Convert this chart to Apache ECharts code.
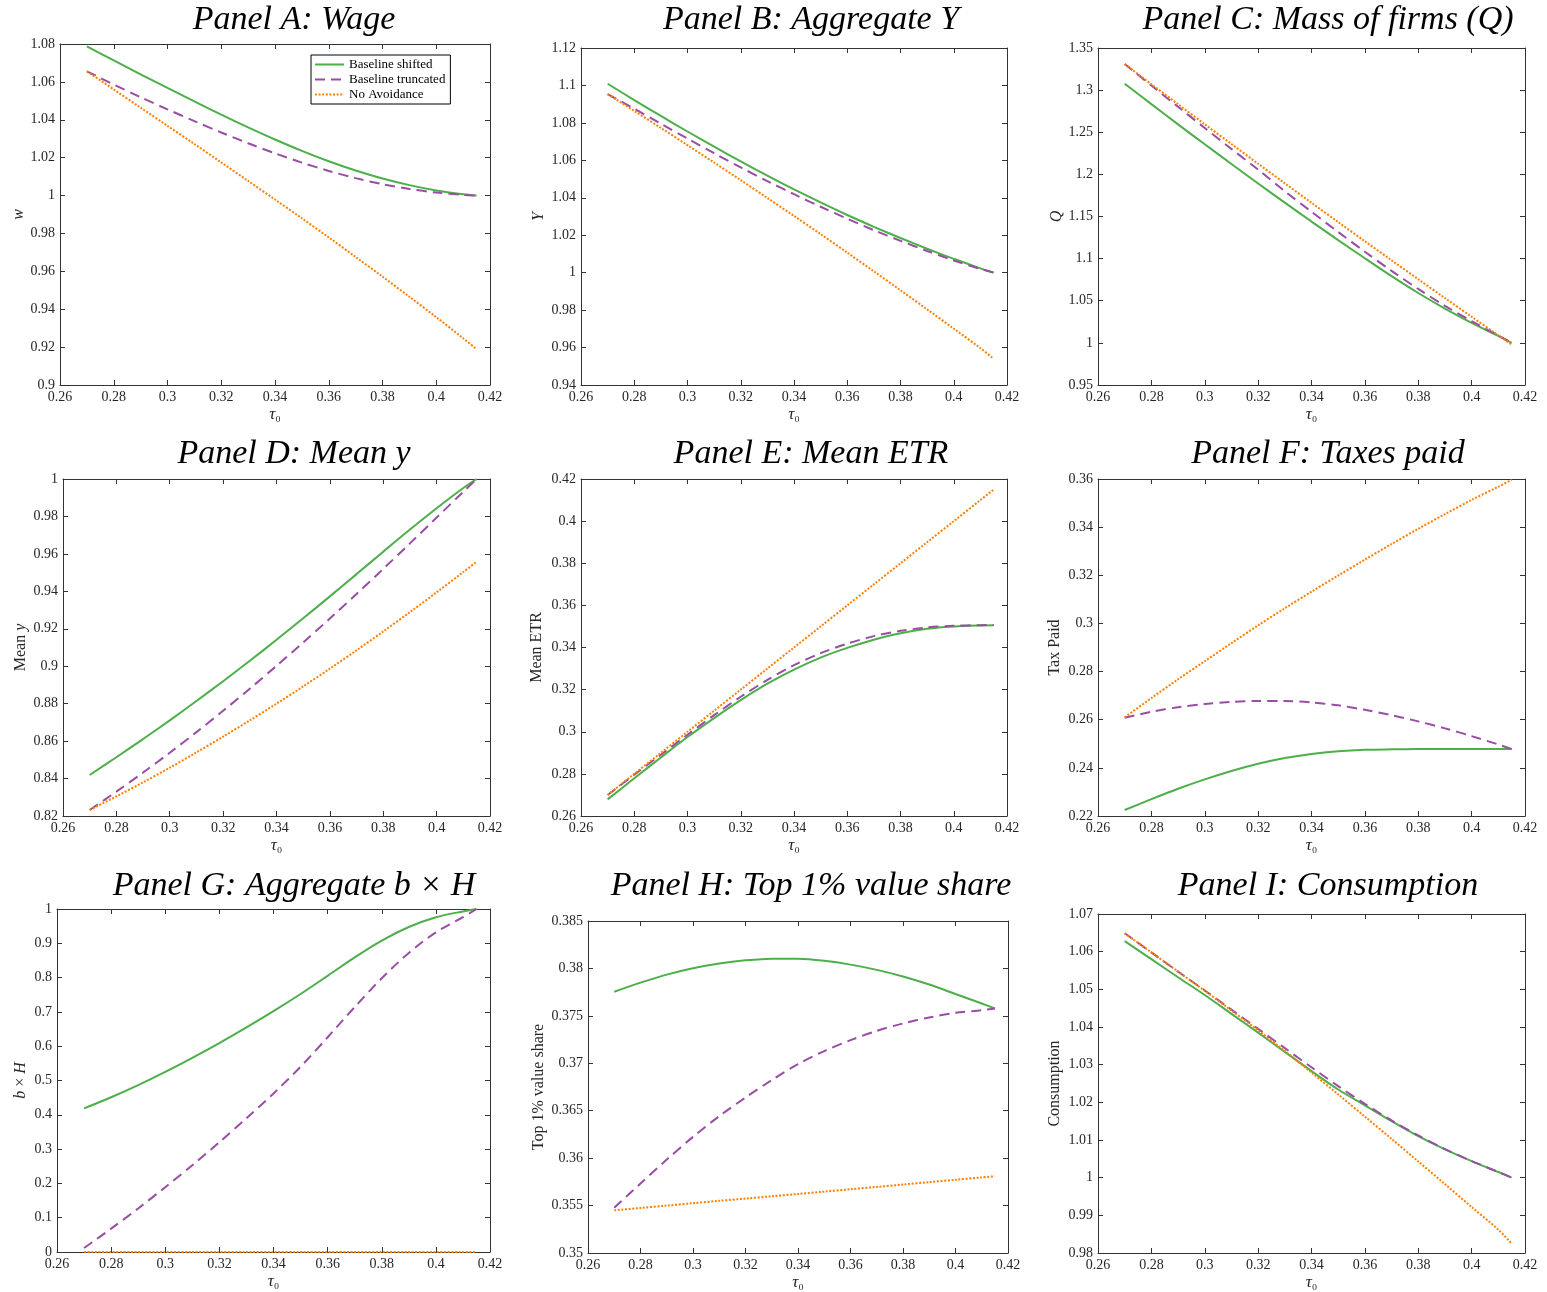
<!DOCTYPE html>
<html><head><meta charset="utf-8">
<script src="https://cdn.jsdelivr.net/npm/echarts@6/dist/echarts.min.js"></script>
<style>html,body{margin:0;padding:0;background:#fff}#chart{width:1547px;height:1292px}</style>
</head><body><div id="chart"></div>
<script>
// ---------------- DATA ----------------
const tau = [0.27,0.28,0.29,0.30,0.31,0.32,0.33,0.34,0.35,0.36,0.37,0.38,0.39,0.40,0.41,0.415];
const seriesNames = ['Baseline shifted','Baseline truncated','No Avoidance'];

// Panel A: Wage
const wShifted   = [1.0788,1.0713,1.0640,1.0568,1.0497,1.0427,1.0360,1.0296,1.0236,1.0181,1.0132,1.0090,1.0055,1.0027,1.0007,1.0000];
const wTruncated = [1.0656,1.0586,1.0519,1.0455,1.0393,1.0333,1.0276,1.0223,1.0174,1.0130,1.0092,1.0060,1.0035,1.0016,1.0004,1.0000];
const wNoAvoid   = [1.0656,1.0560,1.0464,1.0368,1.0272,1.0175,1.0077,0.9979,0.9880,0.9779,0.9676,0.9572,0.9466,0.9358,0.9247,0.9189];
// Panel B: Aggregate Y
const yShifted   = [1.1009,1.0922,1.0837,1.0754,1.0673,1.0594,1.0518,1.0445,1.0375,1.0308,1.0245,1.0185,1.0128,1.0074,1.0023,1.0000];
const yTruncated = [1.0954,1.0876,1.0796,1.0716,1.0638,1.0562,1.0489,1.0419,1.0352,1.0288,1.0227,1.0170,1.0116,1.0065,1.0020,1.0000];
const yNoAvoid   = [1.0954,1.0864,1.0773,1.0681,1.0588,1.0494,1.0399,1.0303,1.0206,1.0107,1.0007,0.9906,0.9804,0.9701,0.9597,0.9540];
// Panel C: Mass of firms Q
const qShifted   = [1.3076,1.2834,1.2594,1.2357,1.2123,1.1892,1.1664,1.1440,1.1220,1.1004,1.0792,1.0592,1.0407,1.0237,1.0082,1.0000];
const qTruncated = [1.3310,1.3055,1.2802,1.2551,1.2302,1.2056,1.1800,1.1556,1.1316,1.1082,1.0855,1.0640,1.0440,1.0258,1.0088,1.0000];
const qNoAvoid   = [1.3310,1.3070,1.2832,1.2595,1.2360,1.2126,1.1894,1.1663,1.1434,1.1206,1.0980,1.0755,1.0532,1.0310,1.0090,0.9980];
// Panel D: Mean y
const myShifted   = [0.8419,0.8514,0.8611,0.8711,0.8814,0.8920,0.9029,0.9141,0.9256,0.9373,0.9492,0.9612,0.9730,0.9844,0.9952,1.0000];
const myTruncated = [0.8232,0.8330,0.8432,0.8538,0.8648,0.8762,0.8880,0.9002,0.9127,0.9255,0.9386,0.9520,0.9656,0.9794,0.9932,1.0000];
const myNoAvoid   = [0.8232,0.8305,0.8380,0.8458,0.8540,0.8624,0.8711,0.8800,0.8892,0.8987,0.9085,0.9186,0.9289,0.9395,0.9503,0.9558];
// Panel E: Mean ETR
const etrShifted   = [0.2679,0.2779,0.2878,0.2975,0.3065,0.3150,0.3228,0.3295,0.3352,0.3398,0.3437,0.3468,0.3489,0.3500,0.3505,0.3506];
const etrTruncated = [0.2700,0.2796,0.2891,0.2986,0.3079,0.3166,0.3246,0.3316,0.3373,0.3418,0.3454,0.3479,0.3495,0.3503,0.3506,0.3507];
const etrNoAvoid   = [0.2700,0.2800,0.2900,0.3000,0.3100,0.3200,0.3300,0.3400,0.3500,0.3600,0.3700,0.3800,0.3900,0.4000,0.4100,0.4150];
// Panel F: Taxes paid
const taxShifted   = [0.2225,0.2270,0.2313,0.2352,0.2387,0.2417,0.2441,0.2458,0.2469,0.2475,0.2477,0.2478,0.2478,0.2478,0.2478,0.2478];
const taxTruncated = [0.2608,0.2633,0.2652,0.2665,0.2674,0.2678,0.2678,0.2672,0.2660,0.2641,0.2619,0.2593,0.2564,0.2532,0.2497,0.2478];
const taxNoAvoid   = [0.2610,0.2690,0.2768,0.2843,0.2918,0.2992,0.3063,0.3132,0.3199,0.3265,0.3330,0.3393,0.3454,0.3513,0.3568,0.3597];
// Panel G: Aggregate b x H
const bhShifted   = [0.4187,0.4512,0.4867,0.5252,0.5662,0.6092,0.6547,0.7022,0.7522,0.8052,0.8590,0.9080,0.9475,0.9760,0.9930,1.0000];
const bhTruncated = [0.0117,0.0680,0.1270,0.1890,0.2530,0.3200,0.3900,0.4620,0.5400,0.6260,0.7140,0.7980,0.8720,0.9320,0.9760,1.0000];
const bhNoAvoid   = [0,0,0,0,0,0,0,0,0,0,0,0,0,0,0,0];
// Panel H: Top 1% value share
const top1Shifted   = [0.37754,0.37850,0.37935,0.38002,0.38052,0.38085,0.38103,0.38102,0.38080,0.38040,0.37985,0.37915,0.37830,0.37730,0.37630,0.37578];
const top1Truncated = [0.35478,0.35732,0.35985,0.36224,0.36443,0.36639,0.36823,0.36991,0.37129,0.37244,0.37342,0.37420,0.37483,0.37532,0.37560,0.37578];
const top1NoAvoid   = [0.35450,0.35475,0.35500,0.35525,0.35550,0.35574,0.35598,0.35622,0.35647,0.35672,0.35697,0.35722,0.35747,0.35772,0.35797,0.35809];
// Panel I: Consumption
const consShifted   = [1.0628,1.0580,1.0532,1.0485,1.0435,1.0385,1.0334,1.0283,1.0234,1.0192,1.0150,1.0110,1.0075,1.0044,1.0015,1.0000];
const consTruncated = [1.0649,1.0598,1.0547,1.0497,1.0446,1.0395,1.0344,1.0293,1.0243,1.0196,1.0152,1.0112,1.0076,1.0044,1.0015,1.0000];
const consNoAvoid   = [1.0649,1.0598,1.0547,1.0496,1.0444,1.0391,1.0336,1.0279,1.0221,1.0162,1.0103,1.0043,0.9983,0.9922,0.9862,0.9825];

const panelTitles = ['Panel A: Wage','Panel B: Aggregate Y','Panel C: Mass of firms (Q)',
  'Panel D: Mean y','Panel E: Mean ETR','Panel F: Taxes paid',
  'Panel G: Aggregate b \u00d7 H','Panel H: Top 1% value share','Panel I: Consumption'];
const yAxisNames = ['{i|w}','{i|Y}','{i|Q}','{n|Mean }{i|y}','{n|Mean ETR}','{n|Tax Paid}','{i|b}{n| \u00d7 }{i|H}','{n|Top 1% value share}','{n|Consumption}'];
const yMins = [0.9, 0.94, 0.95, 0.82, 0.26, 0.22, 0, 0.35, 0.98];
const yMaxs = [1.08, 1.12, 1.35, 1.0, 0.42, 0.36, 1.0, 0.385, 1.07];
const yIntervals = [0.02, 0.02, 0.05, 0.02, 0.02, 0.02, 0.1, 0.005, 0.01];
const xMin = 0.26, xMax = 0.42, xInterval = 0.02;
const panelData = [
  [wShifted, wTruncated, wNoAvoid],
  [yShifted, yTruncated, yNoAvoid],
  [qShifted, qTruncated, qNoAvoid],
  [myShifted, myTruncated, myNoAvoid],
  [etrShifted, etrTruncated, etrNoAvoid],
  [taxShifted, taxTruncated, taxNoAvoid],
  [bhShifted, bhTruncated, bhNoAvoid],
  [top1Shifted, top1Truncated, top1NoAvoid],
  [consShifted, consTruncated, consNoAvoid]
];

// ---------------- LAYOUT / STYLE ----------------
const SERIF = '"Liberation Serif", "Times New Roman", serif';
const AX = '#333333';
const COLORS = ['#4daf4a', '#984ea3', '#ff7f00'];
const LTYPES = ['solid', [10, 6], [2, 1.6]];
const grids = [
  [60, 44, 430, 341], [581, 48, 426, 337], [1098, 48, 427, 337],
  [63, 479, 427, 337], [581, 479, 426, 337], [1098, 479, 427, 337],
  [57, 909, 433, 343], [588, 921, 420, 332], [1098, 914, 427, 339]
];
const yGaps = [33, 34, 32, 34, 36, 35, 28, 41, 35];
const titlePos = [[294,20],[811,20],[1328,20],[294,454],[811,454],[1328,454],[294,886],[811,886],[1328,886]];

const fmt = v => String(+(+v).toFixed(5));
const richY = {
  n: {fontFamily: SERIF, fontSize: 16, color: '#262626'},
  i: {fontFamily: SERIF, fontSize: 16, fontStyle: 'italic', color: '#262626'}
};
const richX = {
  t: {fontFamily: SERIF, fontSize: 17, fontStyle: 'italic', color: '#262626'},
  s: {fontFamily: SERIF, fontSize: 16, color: '#262626'}
};

const option = {
  animation: false,
  backgroundColor: '#fff',
  textStyle: {fontFamily: SERIF},
  grid: [], xAxis: [], yAxis: [], series: [],
  graphic: [],
  legend: {
    data: seriesNames, left: 311, top: 55, orient: 'vertical',
    itemWidth: 29, itemHeight: 10, itemGap: 2,
    padding: [3, 5, 3, 3], borderColor: '#000', borderWidth: 1, borderRadius: 0,
    backgroundColor: '#fff',
    itemStyle: {opacity: 0},
    textStyle: {fontFamily: SERIF, fontSize: 13, color: '#000'}
  }
};

for (let p = 0; p < 9; p++) {
  const g = grids[p];
  option.grid.push({left: g[0], top: g[1], width: g[2], height: g[3], containLabel: false});
  const axLine = {show: true, onZero: false, lineStyle: {color: AX, width: 1}};
  const tick = {show: true, inside: true, length: 5, lineStyle: {color: AX}};
  option.xAxis.push({
    type: 'value', gridIndex: p, position: 'bottom', min: xMin, max: xMax, interval: xInterval,
    axisLine: axLine, axisTick: tick, splitLine: {show: false},
    axisLabel: {formatter: fmt, fontFamily: SERIF, fontSize: 14, color: '#262626', margin: 5, showMinLabel: true, showMaxLabel: true},
    name: '{t|\u03c4}{s|\u2080}', nameLocation: 'middle', nameGap: 21,
    nameTextStyle: {rich: richX, fontFamily: SERIF, fontSize: 17, color: '#262626'}
  });
  option.yAxis.push({
    type: 'value', gridIndex: p, position: 'left', min: yMins[p], max: yMaxs[p], interval: yIntervals[p],
    axisLine: axLine, axisTick: tick, splitLine: {show: false},
    axisLabel: {formatter: fmt, fontFamily: SERIF, fontSize: 14, color: '#262626', margin: 5, showMinLabel: true, showMaxLabel: true},
    name: yAxisNames[p], nameLocation: 'middle', nameGap: yGaps[p], nameRotate: 90,
    nameTextStyle: {rich: richY, fontFamily: SERIF, fontSize: 16, color: '#262626'}
  });
  option.graphic.push({
    type: 'text', x: titlePos[p][0], y: titlePos[p][1],
    style: {text: panelTitles[p], fontFamily: SERIF, fontStyle: 'italic', fontSize: 34, fill: '#000',
      align: 'center', verticalAlign: 'middle'}
  });
}
for (let p = 0; p < 9; p++) {
  const axLine = {show: true, onZero: false, lineStyle: {color: AX, width: 1}};
  const tick = {show: true, inside: true, length: 5, lineStyle: {color: AX}};
  option.xAxis.push({
    type: 'value', gridIndex: p, position: 'top', min: xMin, max: xMax, interval: xInterval,
    axisLine: axLine, axisTick: tick, axisLabel: {show: false}, splitLine: {show: false}
  });
  option.yAxis.push({
    type: 'value', gridIndex: p, position: 'right', min: yMins[p], max: yMaxs[p], interval: yIntervals[p],
    axisLine: axLine, axisTick: tick, axisLabel: {show: false}, splitLine: {show: false}
  });
}
for (let p = 0; p < 9; p++) {
  for (let s = 0; s < 3; s++) {
    const vals = panelData[p][s];
    option.series.push({
      type: 'line', name: seriesNames[s], xAxisIndex: p, yAxisIndex: p,
      data: tau.map((x, i) => [x, vals[i]]),
      symbol: 'none', showSymbol: false, smooth: 0.3, clip: true,
      lineStyle: {color: COLORS[s], width: 2, type: LTYPES[s], cap: 'butt'},
      itemStyle: {color: COLORS[s]},
      z: 2 + s
    });
  }
}
const chart = echarts.init(document.getElementById('chart'), null, {renderer: 'canvas'});
chart.setOption(option);
</script></body></html>
